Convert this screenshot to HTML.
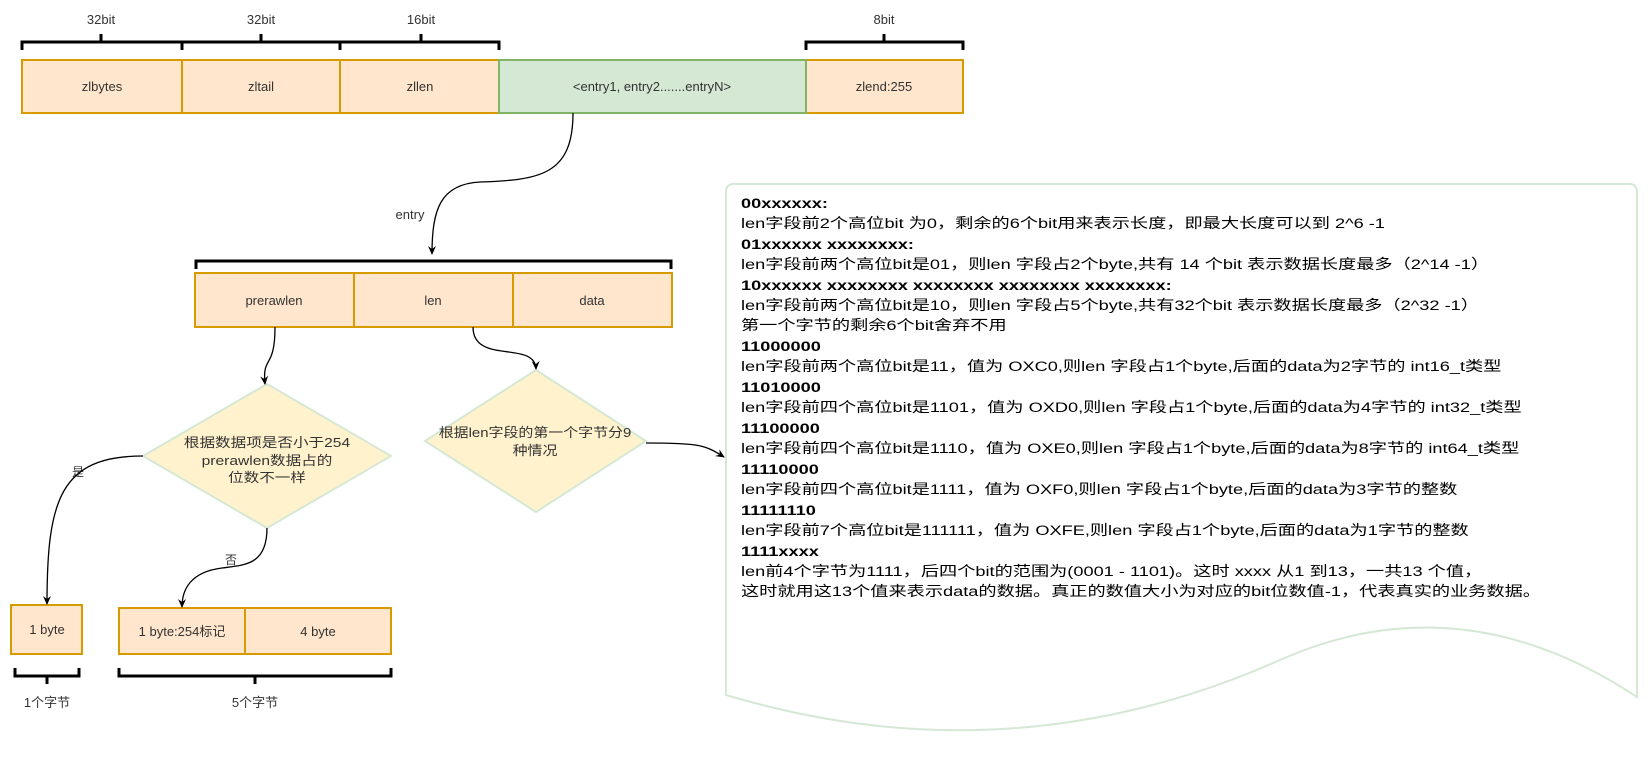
<!DOCTYPE html>
<html><head><meta charset="utf-8"><style>
body{margin:0;background:#fff;}
svg{display:block;font-family:"Liberation Sans","Noto Sans CJK SC",sans-serif;}
</style></head><body>
<svg width="1648" height="768" viewBox="0 0 1648 768" xmlns="http://www.w3.org/2000/svg">
<defs><marker id="a" markerWidth="10" markerHeight="10" refX="8" refY="5" orient="auto" markerUnits="userSpaceOnUse"><path d="M0,1 L9,5 L0,9 L3,5 Z" fill="#000"/></marker></defs>
<g font-size="13" fill="#333" text-anchor="middle">
<text x="101" y="24">32bit</text><text x="261" y="24">32bit</text><text x="421" y="24">16bit</text><text x="884" y="24">8bit</text>
</g>
<g stroke="#000" stroke-width="3" fill="none">
<path d="M22,50 V42 H499 V50 M182,42 V50 M340,42 V50 M101,42 V34 M261,42 V34 M421,42 V34"/>
<path d="M806,50 V42 H963 V50 M884,42 V34"/>
<path d="M196,269 V261 H671 V269"/>
<path d="M15,668 V676 H79 V668 M47,676 V684"/>
<path d="M119,668 V676 H391 V668 M255,676 V684"/>
</g>
<g stroke="#d79b00" stroke-width="2" fill="#ffe6cc">
<rect x="22" y="60" width="160" height="53"/><rect x="182" y="60" width="158" height="53"/><rect x="340" y="60" width="159" height="53"/><rect x="806" y="60" width="157" height="53"/>
<rect x="195" y="273" width="159" height="54"/><rect x="354" y="273" width="159" height="54"/><rect x="513" y="273" width="159" height="54"/>
<rect x="11" y="605" width="71" height="49"/><rect x="119" y="608" width="126" height="46"/><rect x="245" y="608" width="146" height="46"/>
</g>
<rect x="499" y="60" width="307" height="53" fill="#d5e8d4" stroke="#82b366" stroke-width="2"/>
<g font-size="13" fill="#333" text-anchor="middle">
<text x="102" y="91">zlbytes</text><text x="261" y="91">zltail</text><text x="420" y="91">zllen</text><text x="652" y="91">&lt;entry1, entry2.......entryN&gt;</text><text x="884" y="91">zlend:255</text>
<text x="274" y="305">prerawlen</text><text x="433" y="305">len</text><text x="592" y="305">data</text>
<text x="47" y="634">1 byte</text><text x="182" y="636">1 byte:254标记</text><text x="318" y="636">4 byte</text>
<text x="47" y="707">1个字节</text><text x="255" y="707">5个字节</text>
<text x="410" y="219">entry</text>
<text x="78" y="476" font-size="12">是</text><text x="231" y="564" font-size="12">否</text>
</g>
<polygon points="267,384 391,456 267,528 143,456" fill="#fff2cc" stroke="#d5e8d4" stroke-width="2"/>
<polygon points="536,370 646,441 536,512 425,441" fill="#fff2cc" stroke="#d5e8d4" stroke-width="2"/>
<g font-size="13" fill="#333" text-anchor="middle">
<g transform="translate(267,0) scale(1.2,1) translate(-267,0)">
<text x="267" y="447">根据数据项是否小于254</text><text x="267" y="465">prerawlen数据占的</text><text x="267" y="482">位数不一样</text></g>
<g transform="translate(535,0) scale(1.15,1) translate(-535,0)">
<text x="535" y="437">根据len字段的第一个字节分9</text><text x="535" y="455">种情况</text></g>
</g>
<g stroke="#000" stroke-width="1.3" fill="none" marker-end="url(#a)">
<path d="M573,113 C573,175 540,180 480,182 C440,184 432,210 432,254"/>
<path d="M275,327 C275,370 262,355 265,384"/>
<path d="M473,327 C473,365 535,340 536,369"/>
<path d="M143,456 C60,456 47,500 47,604"/>
<path d="M267,528 C267,565 245,565 222,568 C190,572 182,590 182,607"/>
<path d="M646,443 C700,443 705,445 724,457"/>
</g>
<path d="M734,184 H1629 Q1637,184 1637,192 V697 Q1460,580 1280,660 Q1010,780 726,695 V192 Q726,184 734,184 Z" fill="#fff" stroke="#d5e8d4" stroke-width="2"/>
<g font-size="14" fill="#000" transform="translate(741,0) scale(1.3,1) translate(-741,0)">
<text x="741" y="208" font-weight="bold">00xxxxxx:</text>
<text x="741" y="228">len字段前2个高位bit 为0，剩余的6个bit用来表示长度，即最大长度可以到 2^6 -1</text>
<text x="741" y="249" font-weight="bold">01xxxxxx xxxxxxxx:</text>
<text x="741" y="269">len字段前两个高位bit是01，则len 字段占2个byte,共有 14 个bit 表示数据长度最多（2^14 -1）</text>
<text x="741" y="290" font-weight="bold">10xxxxxx xxxxxxxx xxxxxxxx xxxxxxxx xxxxxxxx:</text>
<text x="741" y="310">len字段前两个高位bit是10，则len 字段占5个byte,共有32个bit 表示数据长度最多（2^32 -1）</text>
<text x="741" y="330">第一个字节的剩余6个bit舍弃不用</text>
<text x="741" y="351" font-weight="bold">11000000</text>
<text x="741" y="371">len字段前两个高位bit是11，值为 OXC0,则len 字段占1个byte,后面的data为2字节的 int16_t类型</text>
<text x="741" y="392" font-weight="bold">11010000</text>
<text x="741" y="412">len字段前四个高位bit是1101，值为 OXD0,则len 字段占1个byte,后面的data为4字节的 int32_t类型</text>
<text x="741" y="433" font-weight="bold">11100000</text>
<text x="741" y="453">len字段前四个高位bit是1110，值为 OXE0,则len 字段占1个byte,后面的data为8字节的 int64_t类型</text>
<text x="741" y="474" font-weight="bold">11110000</text>
<text x="741" y="494">len字段前四个高位bit是1111，值为 OXF0,则len 字段占1个byte,后面的data为3字节的整数</text>
<text x="741" y="515" font-weight="bold">11111110</text>
<text x="741" y="535">len字段前7个高位bit是111111，值为 OXFE,则len 字段占1个byte,后面的data为1字节的整数</text>
<text x="741" y="556" font-weight="bold">1111xxxx</text>
<text x="741" y="576">len前4个字节为1111，后四个bit的范围为(0001 - 1101)。这时 xxxx 从1 到13，一共13 个值，</text>
<text x="741" y="596">这时就用这13个值来表示data的数据。真正的数值大小为对应的bit位数值-1，代表真实的业务数据。</text>
</g>
</svg>
</body></html>
